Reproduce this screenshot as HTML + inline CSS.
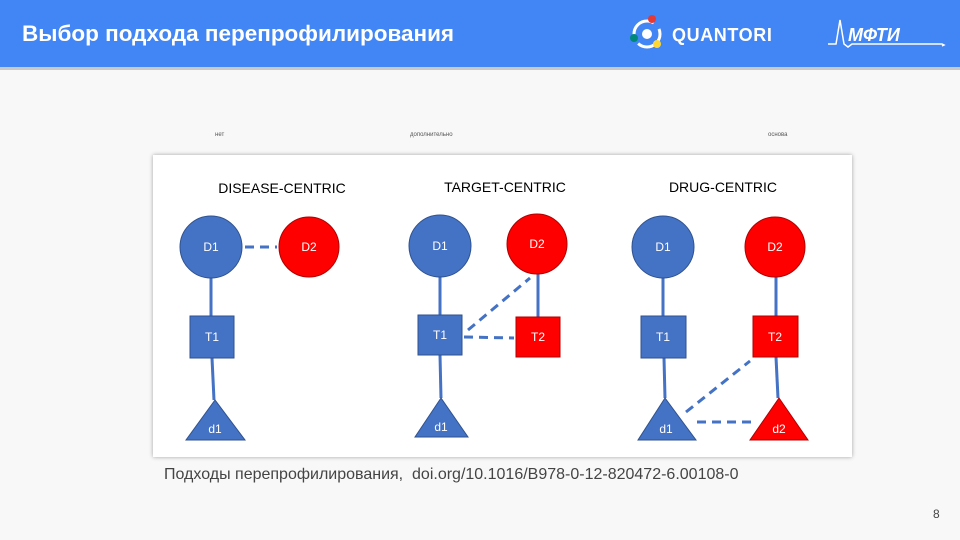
<!DOCTYPE html>
<html><head><meta charset="utf-8"><style>
body{margin:0;width:960px;height:540px;background:#f8f8f8;font-family:"Liberation Sans",sans-serif;position:relative;overflow:hidden}
.hdr{position:absolute;left:0;top:0;width:960px;height:67px;background:#4285f4;border-bottom:3px solid #c9c9c9}
.t{position:absolute;left:22px;top:21px;color:#fff;font-weight:bold;font-size:22.5px}
.sm{position:absolute;top:132px;font-size:6px;color:#555}
.box{position:absolute;left:153px;top:155px;width:699px;height:302px;background:#fff;box-shadow:0 0 4px rgba(0,0,0,.35)}
.cap{position:absolute;left:164px;top:466px;font-size:16px;color:#444}
.pg{position:absolute;left:933px;top:507px;font-size:12px;color:#444}
</style></head><body>
<div class="hdr"><div class="t">Выбор подхода перепрофилирования</div>
<svg style="position:absolute;left:620px;top:0" width="340" height="67">
<circle cx="27" cy="34" r="13" fill="none" stroke="#fff" stroke-width="3" stroke-dasharray="30 8"/>
<circle cx="27" cy="34" r="5" fill="#fff"/>
<circle cx="32" cy="19" r="4" fill="#e53935"/><circle cx="14" cy="38" r="4" fill="#00897b"/><circle cx="37" cy="44" r="4" fill="#fdd835"/>
<text x="52" y="41" fill="#fff" font-family="Liberation Sans" font-weight="bold" font-size="18" letter-spacing="0.6">QUANTORI</text>
<path d="M208 44 L216 44 L220 20 L224 44 L228 47 L232 44 L322 44 L324 45 L322 46" stroke="#fff" stroke-width="1.5" fill="none"/>
<text x="228" y="41" fill="#fff" font-family="Liberation Sans" font-weight="bold" font-style="italic" font-size="18">МФТИ</text>
</svg></div>
<div class="sm" style="left:215px">нет</div>
<div class="sm" style="left:410px">дополнительно</div>
<div class="sm" style="left:768px">основа</div>
<div class="box"></div>
<svg style="position:absolute;left:0;top:0" width="960" height="540" font-family="Liberation Sans">
<g font-size="14" fill="#000"><text x="282" y="193" text-anchor="middle">DISEASE-CENTRIC</text>
<text x="505" y="192" text-anchor="middle">TARGET-CENTRIC</text>
<text x="723" y="192" text-anchor="middle">DRUG-CENTRIC</text></g>
<g stroke="#4472c4" stroke-width="3" fill="none">
<line x1="211" y1="278" x2="211" y2="316"/><line x1="212" y1="358" x2="214" y2="400"/>
<line x1="440" y1="277" x2="440" y2="315"/><line x1="440" y1="355" x2="441" y2="398"/><line x1="538" y1="274" x2="538" y2="317"/>
<line x1="663" y1="278" x2="663" y2="316"/><line x1="664" y1="358" x2="665" y2="398"/><line x1="776" y1="277" x2="776" y2="316"/><line x1="776" y1="357" x2="778" y2="398"/>
<g stroke-dasharray="9 6"><line x1="245" y1="247" x2="277" y2="247"/>
<line x1="464" y1="337" x2="514" y2="338"/><line x1="468" y1="330" x2="530" y2="278"/>
<line x1="686" y1="412" x2="750" y2="361"/><line x1="697" y1="422" x2="755" y2="422"/></g></g>
<g stroke="#2f528f" stroke-width="1" fill="#4472c4">
<circle cx="211" cy="247" r="31"/><circle cx="440" cy="246" r="31"/><circle cx="663" cy="247" r="31"/>
<rect x="190" y="316" width="44" height="42"/><rect x="418" y="315" width="44" height="40"/><rect x="641" y="316" width="45" height="42"/>
<polygon points="215,400 186,440 245,440"/><polygon points="441,398 415,437 468,437"/><polygon points="665,398 638,440 696,440"/></g>
<g stroke="#b00000" stroke-width="1" fill="#ff0000">
<circle cx="309" cy="247" r="30"/><circle cx="537" cy="244" r="30"/><circle cx="775" cy="247" r="30"/>
<rect x="516" y="317" width="44" height="40"/><rect x="753" y="316" width="45" height="41"/>
<polygon points="779,398 750,440 808,440"/></g>
<g fill="#fff" font-size="12" text-anchor="middle">
<text x="211" y="251">D1</text><text x="309" y="251">D2</text><text x="440" y="250">D1</text><text x="537" y="248">D2</text><text x="663" y="251">D1</text><text x="775" y="251">D2</text>
<text x="212" y="341">T1</text><text x="440" y="339">T1</text><text x="538" y="341">T2</text><text x="663" y="341">T1</text><text x="775" y="341">T2</text>
<text x="215" y="433">d1</text><text x="441" y="431">d1</text><text x="666" y="433">d1</text><text x="779" y="433">d2</text></g>
</svg>
<div class="cap">Подходы перепрофилирования,&nbsp; doi.org/10.1016/B978-0-12-820472-6.00108-0</div>
<div class="pg">8</div>
</body></html>
